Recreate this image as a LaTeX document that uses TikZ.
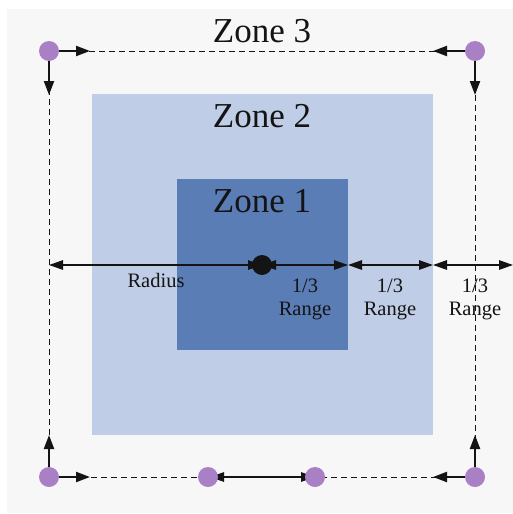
\documentclass[tikz,border=0pt]{standalone}
\usepackage{fontspec}
\setmainfont{Liberation Serif}
\usetikzlibrary{arrows.meta}

\definecolor{bgray}{HTML}{F7F7F7}
\definecolor{zonetwo}{HTML}{C0CDE6}
\definecolor{zoneone}{HTML}{5B7DB6}
\definecolor{marker}{HTML}{A97FC5}
\definecolor{ink}{HTML}{141414}

\tikzset{
  zonelabel/.style={font=\fontsize{35}{40}\selectfont, text=ink, anchor=base, inner sep=0},
  smalllabel/.style={font=\fontsize{20.5}{23}\selectfont, text=ink, align=center, inner sep=0},
  marker/.style={circle, fill=marker, minimum size=20pt, inner sep=0},
  hub/.style={circle, fill=ink, minimum size=20pt, inner sep=0},
  boundary/.style={draw=ink, dashed, line width=0.9pt, dash pattern=on 6pt off 4pt},
  cornerarrow/.style={draw=ink, line width=2.2pt, -{Triangle[length=14pt,width=10pt]}},
  measure/.style={draw=ink, line width=1.3pt, {Triangle[length=14pt,width=9.5pt]}-{Triangle[length=14pt,width=9.5pt]}}
}

\begin{document}
\begin{tikzpicture}[x=1pt,y=-1pt]
  \useasboundingbox (0,0) rectangle (513,514);
  \fill[bgray] (7,9) rectangle (513,513);

  % zones
  \fill[zonetwo] (92,94) rectangle (433,435);
  \fill[zoneone] (177,179) rectangle (348,350);

  \node[zonelabel] (z3) at (262,42) {Zone 3};
  \node[zonelabel] (z2) at (262,127) {Zone 2};
  \node[zonelabel] (z1) at (262,212) {Zone 1};

  % marker positions
  \coordinate (tl) at (49,51);
  \coordinate (tr) at (475,51);
  \coordinate (bl) at (49,477);
  \coordinate (br) at (475,477);
  \coordinate (bm1) at (208,477);
  \coordinate (bm2) at (315,477);

  % dashed outer boundary
  \draw[boundary] (tl) -- (tr) -- (br) -- (bl) -- cycle;

  % free ends of the corner arrows
  \coordinate (tlr) at (90,51);
  \coordinate (tld) at (49,95);
  \coordinate (trl) at (433,51);
  \coordinate (trd) at (475,95);
  \coordinate (blu) at (49,435);
  \coordinate (blr) at (90,477);
  \coordinate (brl) at (433,477);
  \coordinate (bru) at (475,435);

  \draw[cornerarrow] (tl) -- (tlr);
  \draw[cornerarrow] (tl) -- (tld);
  \draw[cornerarrow] (tr) -- (trl);
  \draw[cornerarrow] (tr) -- (trd);
  \draw[cornerarrow] (bl) -- (blu);
  \draw[cornerarrow] (bl) -- (blr);
  \draw[cornerarrow] (br) -- (brl);
  \draw[cornerarrow] (br) -- (bru);

  % step between the two bottom markers
  \coordinate (bm1e) at (210,477);
  \draw[measure] (bm1e) -- (bm2);

  \node[marker] (m1) at (tl) {};
  \node[marker] (m2) at (tr) {};
  \node[marker] (m3) at (bl) {};
  \node[marker] (m4) at (br) {};
  \node[marker] (m5) at (bm1) {};
  \node[marker] (m6) at (bm2) {};

  % radius and range measurements
  \coordinate (hub) at (262,265);
  \coordinate (rl) at (49,265);
  \coordinate (e1) at (348,265);
  \coordinate (e2) at (433,265);
  \coordinate (e3) at (513,265);
  \draw[measure] (rl) -- (hub);
  \draw[measure] (hub) -- (e1);
  \draw[measure] (e1) -- (e2);
  \draw[measure] (e2) -- (e3);
  \node[hub] (h) at (hub) {};

  \node[smalllabel, anchor=base] (rad) at (156,287) {Radius};
  \node[smalllabel, anchor=base] (r1) at (305,315) {1/3\\Range};
  \node[smalllabel, anchor=base] (r2) at (390,315) {1/3\\Range};
  \node[smalllabel, anchor=base] (r3) at (475,315) {1/3\\Range};
\end{tikzpicture}
\end{document}
